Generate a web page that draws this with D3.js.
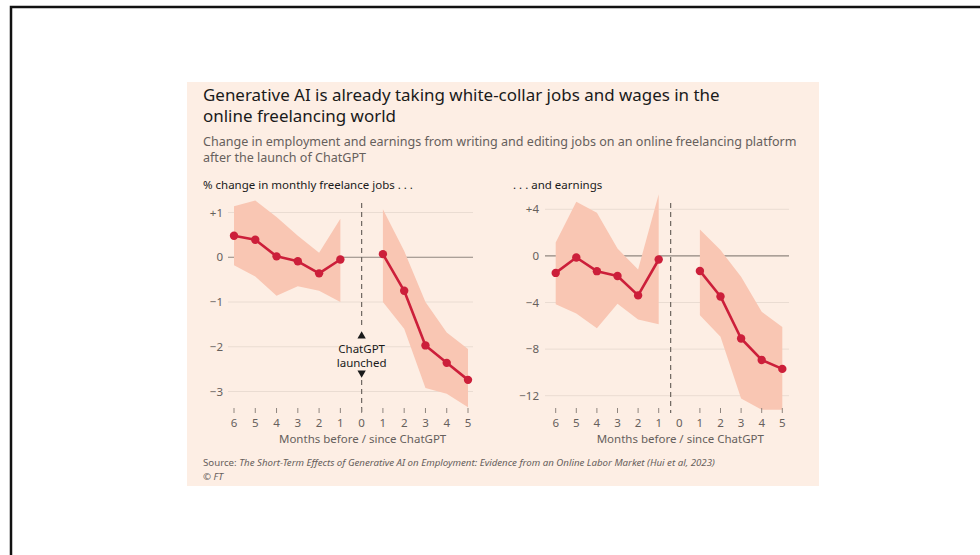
<!DOCTYPE html>
<html>
<head>
<meta charset="utf-8">
<script src="https://cdn.jsdelivr.net/npm/d3@7"></script>
<style>
  body { margin: 0; background: #fff; }
  svg { display: block; font-family: "Noto Sans", "Open Sans", sans-serif; }
</style>
</head>
<body>
<svg id="chart" width="980" height="555"></svg>
<script>
'use strict';

// ── Data ───────────────────────────────────────────────────────────────────
const months      = [-6, -5, -4, -3, -2, -1, 1, 2, 3, 4, 5];
const tickLabels  = ['6', '5', '4', '3', '2', '1', '0', '1', '2', '3', '4', '5'];
const tickValues  = [-6, -5, -4, -3, -2, -1, 0, 1, 2, 3, 4, 5];

const jobsValue   = [0.48, 0.39, 0.02, -0.09, -0.36, -0.05, 0.07, -0.75, -1.97, -2.36, -2.74];
const jobsUpper   = [1.14, 1.27, 0.90, 0.48, 0.10, 0.86, 1.07, 0.14, -1.00, -1.68, -2.05];
const jobsLower   = [-0.18, -0.43, -0.86, -0.65, -0.75, -1.00, -1.00, -1.60, -2.92, -3.05, -3.35];
const jobsTicks   = [1, 0, -1, -2, -3];

const earnValue   = [-1.46, -0.14, -1.31, -1.72, -3.39, -0.31, -1.29, -3.48, -7.09, -8.93, -9.70];
const earnUpper   = [1.15, 4.64, 3.70, 0.63, -1.17, 5.30, 2.27, 0.50, -1.80, -4.80, -6.10];
const earnLower   = [-4.15, -4.95, -6.20, -4.10, -5.46, -5.87, -5.09, -6.95, -12.25, -13.20, -13.20];
const earnTicks   = [4, 0, -4, -8, -12];

const RED   = '#cc1f3a';
const BAND  = '#f9c6b3';
const GREY  = '#66605c';

const svg = d3.select('#chart');

// ── Frame & panel ──────────────────────────────────────────────────────────
svg.append('path')
  .attr('d', 'M11,555 V7 H980')
  .attr('fill', 'none').attr('stroke', '#111').attr('stroke-width', 2.5);

svg.append('rect')
  .attr('x', 187).attr('y', 82).attr('width', 632).attr('height', 404)
  .attr('fill', '#fdeee4');

// ── Titles ─────────────────────────────────────────────────────────────────
const title = svg.append('text').attr('x', 203).attr('y', 101)
  .attr('font-size', 16.95).attr('fill', '#1a1a1a');
title.append('tspan').text('Generative AI is already taking white-collar jobs and wages in the');
title.append('tspan').attr('x', 203).attr('dy', 21).text('online freelancing world');

const sub = svg.append('text').attr('x', 203).attr('y', 146)
  .attr('font-size', 12.55).attr('fill', GREY);
sub.append('tspan').text('Change in employment and earnings from writing and editing jobs on an online freelancing platform');
sub.append('tspan').attr('x', 203).attr('dy', 16).text('after the launch of ChatGPT');

svg.append('text').attr('x', 203).attr('y', 189).attr('font-size', 11.5).attr('fill', '#1a1a1a')
  .text('% change in monthly freelance jobs . . .');
svg.append('text').attr('x', 513).attr('y', 189).attr('font-size', 11.5).attr('fill', '#1a1a1a')
  .text('. . . and earnings');

// ── Panel builder ──────────────────────────────────────────────────────────
function panel(opts) {
  const { x0, x1, y, gridX0, gridX1, labelX, values, upper, lower, ticks, fmt, launch, gapLabel } = opts;
  const x = d3.scaleLinear().domain([-6, 5]).range([x0, x1]);
  const g = svg.append('g');

  // gridlines
  g.selectAll('line.grid').data(ticks).join('line')
    .attr('x1', gridX0).attr('x2', gridX1)
    .attr('y1', d => y(d)).attr('y2', d => y(d))
    .attr('stroke', d => d === 0 ? '#8f867f' : '#eadcd2')
    .attr('stroke-width', d => d === 0 ? 1.2 : 1);

  // y tick labels
  g.selectAll('text.ytick').data(ticks).join('text')
    .attr('x', labelX).attr('y', d => y(d) + 4)
    .attr('text-anchor', 'end').attr('font-size', 11.5).attr('fill', GREY)
    .text(fmt);

  const rows = months.map((m, i) => ({ m, v: values[i], hi: upper[i], lo: lower[i] }));
  const before = rows.filter(r => r.m < 0);
  const after  = rows.filter(r => r.m > 0);

  const area = d3.area().x(d => x(d.m)).y0(d => y(d.lo)).y1(d => y(d.hi));
  const line = d3.line().x(d => x(d.m)).y(d => y(d.v));

  [before, after].forEach(seg => {
    g.append('path').attr('d', area(seg)).attr('fill', BAND);
  });

  // dashed launch line
  const lx = x(launch);
  const dash = (ya, yb) => g.append('line')
    .attr('x1', lx).attr('x2', lx).attr('y1', ya).attr('y2', yb)
    .attr('stroke', '#6e6660').attr('stroke-width', 1.2).attr('stroke-dasharray', '5,4');
  if (gapLabel) {
    dash(203, 326);
    dash(380, 413);
    g.append('path').attr('d', d3.symbol(d3.symbolTriangle, 30)())
      .attr('transform', `translate(${lx},336)`).attr('fill', '#1a1a1a');
    g.append('path').attr('d', d3.symbol(d3.symbolTriangle, 30)())
      .attr('transform', `translate(${lx},373) rotate(180)`).attr('fill', '#1a1a1a');
    g.append('text').attr('x', lx).attr('y', 353).attr('text-anchor', 'middle')
      .attr('font-size', 11.5).attr('fill', '#1a1a1a').text('ChatGPT');
    g.append('text').attr('x', lx).attr('y', 367).attr('text-anchor', 'middle')
      .attr('font-size', 11.5).attr('fill', '#1a1a1a').text('launched');
  } else {
    dash(203, 413);
  }

  [before, after].forEach(seg => {
    g.append('path').attr('d', line(seg)).attr('fill', 'none')
      .attr('stroke', RED).attr('stroke-width', 2.6).attr('stroke-linejoin', 'round');
  });
  g.selectAll('circle').data(rows).join('circle')
    .attr('cx', d => x(d.m)).attr('cy', d => y(d.v)).attr('r', 4.2).attr('fill', RED);

  // x ticks
  const tickMarks = gapLabel ? tickValues : tickValues.filter(t => t !== 0);
  g.selectAll('line.xt').data(tickMarks).join('line')
    .attr('x1', d => x(d)).attr('x2', d => x(d)).attr('y1', 408).attr('y2', 413)
    .attr('stroke', '#8f867f').attr('stroke-width', 1);
  g.selectAll('text.xl').data(tickValues).join('text')
    .attr('x', d => x(d)).attr('y', 427).attr('text-anchor', 'middle')
    .attr('font-size', 11.5).attr('fill', GREY)
    .text((d, i) => tickLabels[i]);
  g.append('text').attr('x', x(0) + 1).attr('y', 443).attr('text-anchor', 'middle')
    .attr('font-size', 11.5).attr('fill', GREY).text('Months before / since ChatGPT');
}

panel({
  x0: 234, x1: 468,
  y: d3.scaleLinear().domain([1, -3]).range([212.5, 391.5]),
  gridX0: 228, gridX1: 473, labelX: 223,
  values: jobsValue, upper: jobsUpper, lower: jobsLower,
  ticks: jobsTicks, fmt: d => d > 0 ? '+' + d : (d < 0 ? '\u2212' + Math.abs(d) : '0'),
  launch: 0, gapLabel: true
});

panel({
  x0: 555.7, x1: 782.3,
  y: d3.scaleLinear().domain([4, -12]).range([209.3, 395.7]),
  gridX0: 545, gridX1: 789, labelX: 539,
  values: earnValue, upper: earnUpper, lower: earnLower,
  ticks: earnTicks, fmt: d => d > 0 ? '+' + d : (d < 0 ? '\u2212' + Math.abs(d) : '0'),
  launch: -0.42, gapLabel: false
});

// ── Source ─────────────────────────────────────────────────────────────────
const src = svg.append('text').attr('x', 203).attr('y', 466).attr('font-size', 9.7).attr('fill', GREY);
src.append('tspan').text('Source: ');
src.append('tspan').attr('font-style', 'italic')
  .text('The Short-Term Effects of Generative AI on Employment: Evidence from an Online Labor Market (Hui et al, 2023)');
svg.append('text').attr('x', 203).attr('y', 480).attr('font-size', 9.7).attr('fill', GREY)
  .attr('font-style', 'italic').text('\u00a9 FT');
</script>
</body>
</html>
